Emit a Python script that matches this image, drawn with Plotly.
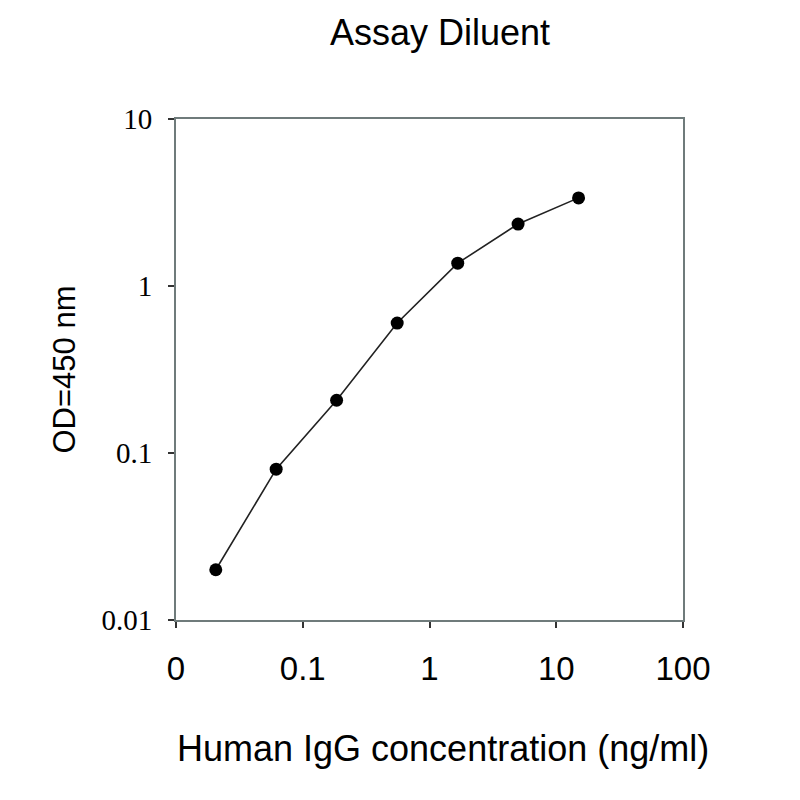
import plotly.graph_objects as go

# standard curve, 3-fold dilution series
conc_ng_ml = [0.0206, 0.0617, 0.185, 0.556, 1.67, 5.0, 15.0]
od_450 = [0.020, 0.080, 0.207, 0.60, 1.37, 2.35, 3.37]

x_tickvals = [0.01, 0.1, 1, 10, 100]
x_ticktext = ["0", "0.1", "1", "10", "100"]
y_tickvals = [0.01, 0.1, 1, 10]
y_ticktext = ["0.01", "0.1", "1", "10"]

axis_col = "#6f7b7b"
serif = "Liberation Serif, Times New Roman, serif"
sans = "Liberation Sans, Arial, sans-serif"

fig = go.Figure()
fig.add_trace(go.Scatter(
    x=conc_ng_ml, y=od_450, mode="lines+markers",
    line=dict(color="#222222", width=1.6),
    marker=dict(color="black", size=13),
    showlegend=False))

fig.update_xaxes(
    type="log", range=[-2, 2],
    tickvals=x_tickvals, ticktext=x_ticktext,
    ticks="outside", ticklen=6, tickcolor="#333333", tickwidth=1.5,
    showgrid=False, zeroline=False,
    showline=True, linecolor=axis_col, linewidth=2, mirror=True,
    tickfont=dict(family=sans, size=33, color="black"),
    ticklabelstandoff=12)

fig.update_yaxes(
    type="log", range=[-2, 1],
    tickvals=y_tickvals, ticktext=y_ticktext,
    ticks="outside", ticklen=6, tickcolor="#333333", tickwidth=1.5,
    showgrid=False, zeroline=False,
    showline=True, linecolor=axis_col, linewidth=2, mirror=True,
    tickfont=dict(family=serif, size=29, color="black"),
    ticklabelstandoff=10)

# axis titles placed as annotations relative to the plot area
fig.add_annotation(text="Human IgG concentration (ng/ml)", xref="paper", yref="paper",
                   x=0.527, y=0, xanchor="center", yanchor="middle", yshift=-128,
                   showarrow=False, font=dict(family=sans, size=36, color="black"))
fig.add_annotation(text="OD=450 nm", xref="paper", yref="paper", textangle=-90,
                   x=0, y=0.5, xanchor="center", yanchor="middle", xshift=-112,
                   showarrow=False, font=dict(family=sans, size=31, color="black"))

fig.update_layout(
    width=800, height=800,
    margin=dict(l=168, r=125, t=111, b=188),
    paper_bgcolor="white", plot_bgcolor="white",
    title=dict(text="Assay Diluent", x=0.54, xanchor="center", y=0.969, yanchor="middle",
               font=dict(family=sans, size=36, color="black")))

fig.write_html("out.html")
